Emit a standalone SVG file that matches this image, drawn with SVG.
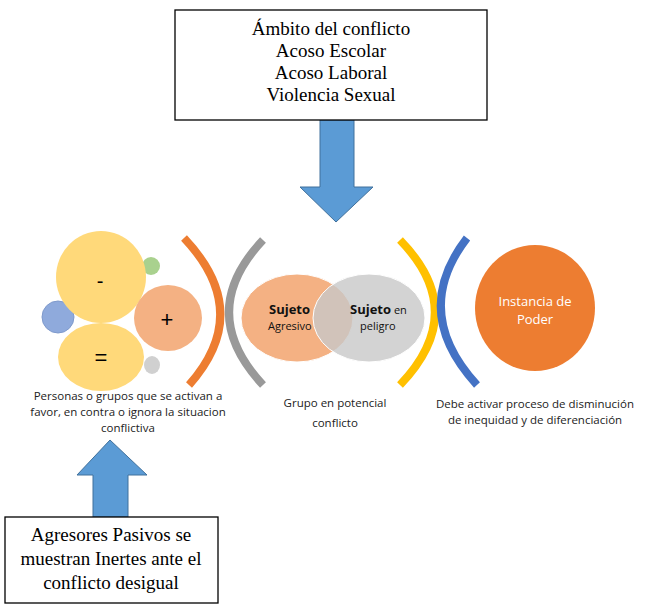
<svg xmlns="http://www.w3.org/2000/svg" width="651" height="612" viewBox="0 0 651 612">
<style>
.box{fill:#fff;stroke:#000;stroke-width:1.3}
.tnr{font-family:"Liberation Serif",serif;font-size:19px;fill:#000;text-anchor:middle}
.cal{font-family:"Open Sans","Liberation Sans",sans-serif;font-size:11.5px;fill:#222;text-anchor:middle}
.arrow{fill:#5B9BD5;stroke:#41719C;stroke-width:1}
.arc{fill:none;stroke-width:8;stroke-linecap:butt}
.lbl{font-family:"Open Sans","Liberation Sans",sans-serif;fill:#111}
</style>
<rect width="651" height="612" fill="#fff"/>
<g id="connectors">
<polygon class="arrow" points="320,120 354,120 354,187 373,187 336,222 300,187 320,187"/>
<polygon class="arrow" points="110,440 147,475 128,475 128,517 93,517 93,475 77,475"/>
</g>
<g id="box-top"><rect class="box" x="175" y="10" width="312" height="110"/>
<text class="tnr" x="331" y="35">Ámbito del conflicto</text>
<text class="tnr" x="331" y="57">Acoso Escolar</text>
<text class="tnr" x="331" y="79">Acoso Laboral</text>
<text class="tnr" x="331" y="101">Violencia Sexual</text></g>
<g id="box-bottom"><rect class="box" x="5" y="517" width="213" height="86"/>
<text class="tnr" x="111" y="541">Agresores Pasivos se</text>
<text class="tnr" x="111" y="565">muestran Inertes ante el</text>
<text class="tnr" x="111" y="589">conflicto desigual</text></g>
<g id="grupos">
<ellipse cx="152" cy="365" rx="8" ry="9" fill="#D0D0D0"/>
<ellipse cx="151" cy="266" rx="9" ry="9" fill="#A9D18E"/>
<ellipse cx="58" cy="317" rx="16" ry="16" fill="#8FAADC" stroke="#7f9acc"/>
<ellipse cx="101" cy="277" rx="45" ry="46" fill="#FFD97A"/>
<ellipse cx="101" cy="357" rx="43" ry="34" fill="#FFD97A"/>
<ellipse cx="168" cy="318" rx="34" ry="33" fill="#F4B183"/>
<text x="100" y="288" font-family="Liberation Sans,sans-serif" font-size="20" text-anchor="middle">-</text>
<text x="167" y="327" font-family="Liberation Sans,sans-serif" font-size="22" text-anchor="middle">+</text>
<text x="101" y="365" font-family="Liberation Sans,sans-serif" font-size="22" text-anchor="middle">=</text>
<text class="cal"><tspan x="128" y="400">Personas o grupos que se activan  a</tspan><tspan x="128" y="416">favor, en contra o ignora la situacion</tspan><tspan x="128" y="432">conflictiva</tspan></text>
</g>
<g id="arcs">
<path class="arc" stroke="#ED7D31" d="M184,238 Q254,312 189,385"/>
<path class="arc" stroke="#999" d="M263,240 Q195,312 263,385"/>
<path class="arc" stroke="#FFC000" d="M400,240 Q470,312 400,385"/>
<path class="arc" stroke="#4472C4" d="M467,238 Q410,312 477,385"/>
</g>
<g id="venn">
<ellipse cx="297" cy="318" rx="56" ry="44" fill="#F4B183" stroke="#fff"/>
<ellipse cx="369" cy="318" rx="56" ry="44" fill="#C8C8C8" fill-opacity="0.8" stroke="#fff"/>
<text class="lbl" font-size="13" font-weight="bold" x="269" y="314">Sujeto</text>
<text class="lbl" font-size="11" x="268" y="330">Agresivo</text>
<text class="lbl" font-size="13" x="350" y="314"><tspan font-weight="bold">Sujeto</tspan><tspan font-size="11"> en</tspan></text>
<text class="lbl" font-size="11" x="360" y="330">peligro</text>
<text class="cal" x="335" y="407">Grupo en potencial</text>
<text class="cal" x="335" y="427">conflicto</text>
</g>
<g id="poder">
<ellipse cx="535" cy="308" rx="60" ry="63" fill="#ED7D31"/>
<text x="535" y="306" font-family="Open Sans,Liberation Sans,sans-serif" font-size="13" fill="#fff" text-anchor="middle">Instancia de</text>
<text x="535" y="324" font-family="Open Sans,Liberation Sans,sans-serif" font-size="13" fill="#fff" text-anchor="middle">Poder</text>
<text class="cal" x="535" y="408">Debe activar proceso de disminución</text>
<text class="cal" x="535" y="424">de inequidad y de diferenciación</text>
</g>
</svg>
